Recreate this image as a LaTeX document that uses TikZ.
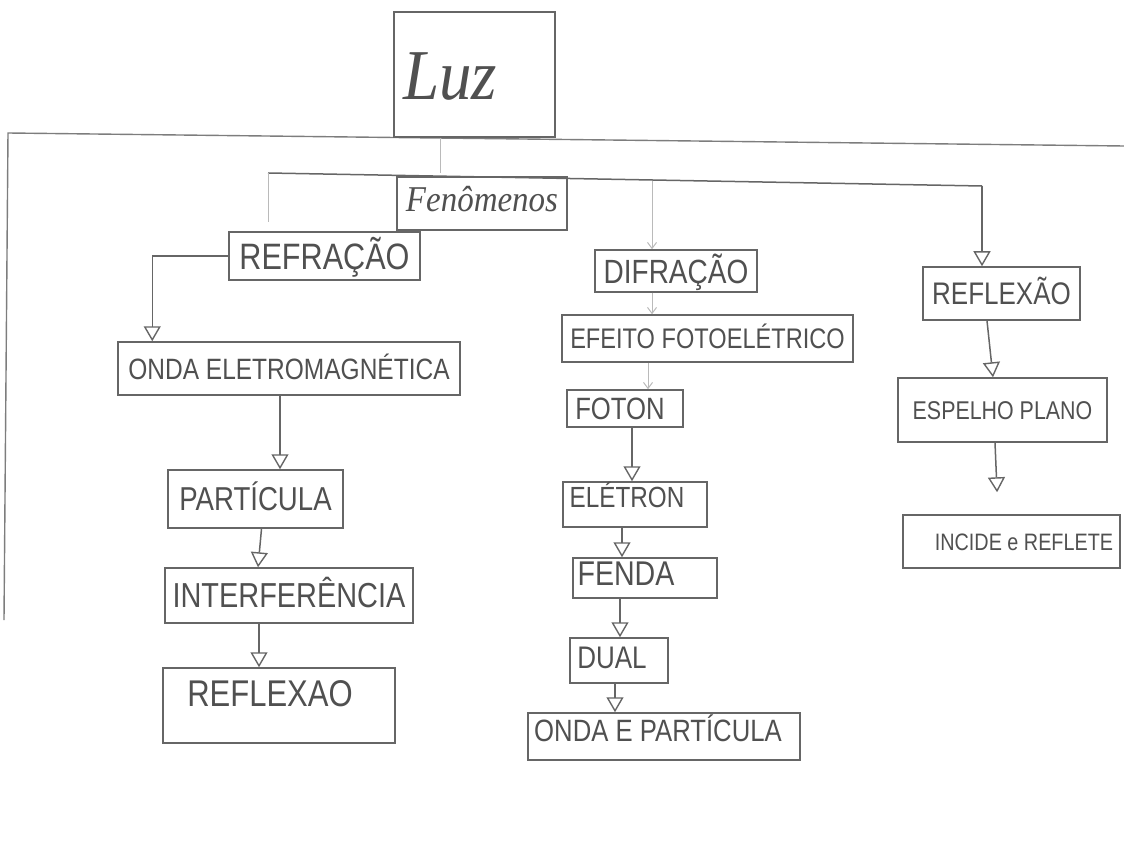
\documentclass[tikz,border=0pt]{standalone}
\usepackage{fontspec}
\setmainfont{Liberation Sans}
\newfontfamily\cursive{Liberation Serif}
\usetikzlibrary{arrows.meta}
\definecolor{linec}{HTML}{666666}
\definecolor{textc}{HTML}{505050}
\newcommand\hw[2]{\smash{\scalebox{1}[1.2]{\fontsize{#1pt}{#1pt}\selectfont #2}}\rule{0pt}{\dimexpr #1pt*86/100\relax}}
\newcommand\cw[2]{\smash{\scalebox{1}[1.1]{\fontsize{#1pt}{#1pt}\selectfont\cursive\itshape #2}}\rule{0pt}{\dimexpr #1pt*50/100\relax}}
\newcommand\pad[1]{\rule{#1}{0pt}}
\tikzset{
  box/.style={draw=linec, line width=1.5pt, rectangle, inner sep=0pt, text=textc},
  conn/.style={draw=linec, line width=1.5pt},
  arr/.style={conn, -{Triangle[open, length=15pt, width=17pt, line width=1.4pt]}},
  faint/.style={draw=linec!45, line width=1pt},
  faintarr/.style={faint, -{Straight Barb[length=6pt, width=9pt]}},
  frame/.style={draw=linec!85, line width=1.4pt}
}
\begin{document}
\begin{tikzpicture}[x=1pt, y=-1pt]
\useasboundingbox (0,0) rectangle (1124,842);
% page frame lines
\draw[frame] (4,620) -- (8,133) -- (1124,146);
% boxes
\node[box, minimum width=161pt, minimum height=125pt, text height=51pt, text depth=0pt] (luz) at (474.5,74.5) {\cw{65}{Luz}\pad{49pt}};
\node[box, minimum width=170pt, minimum height=53pt] (fen) at (482,203.5) {\cw{33}{Fenômenos}};
\node[box, minimum width=191pt, minimum height=48pt] (refr) at (324.5,256) {\hw{30.6}{REFRAÇÃO}};
\node[box, minimum width=342pt, minimum height=53pt] (onda) at (289,368.5) {\hw{24.5}{ONDA ELETROMAGNÉTICA}};
\node[box, minimum width=175pt, minimum height=58pt] (part) at (255.5,499) {\hw{27.6}{PARTÍCULA}};
\node[box, minimum width=248pt, minimum height=55pt] (inter) at (289,595.5) {\hw{28.9}{INTERFERÊNCIA}};
\node[box, minimum width=232pt, minimum height=75pt, text depth=25pt] (reflL) at (279,705.5) {\hw{31}{REFLEXAO}\pad{18pt}};
\node[box, minimum width=162pt, minimum height=42pt] (difr) at (676,271) {\hw{28}{DIFRAÇÃO}};
\node[box, minimum width=291pt, minimum height=47pt] (efeito) at (707.5,338.5) {\hw{23.6}{EFEITO FOTOELÉTRICO}};
\node[box, minimum width=116pt, minimum height=37pt] (foton) at (625,408.5) {\hw{25.7}{FOTON}\pad{10pt}};
\node[box, minimum width=144pt, minimum height=45pt, text depth=14pt] (eletron) at (635,504.5) {\hw{24.3}{ELÉTRON}\pad{16pt}};
\node[box, minimum width=144pt, minimum height=40pt, text depth=10pt] (fenda) at (645,578) {\hw{28.6}{FENDA}\pad{38pt}};
\node[box, minimum width=98pt, minimum height=45pt, text depth=7pt] (dual) at (619,660.5) {\hw{26}{DUAL}\pad{14pt}};
\node[box, minimum width=272pt, minimum height=47pt, text depth=12pt] (ondap) at (664,736.5) {\hw{25.7}{ONDA E PARTÍCULA}\pad{12pt}};
\node[box, minimum width=157pt, minimum height=53pt] (reflR) at (1001.5,293.5) {\hw{26}{REFLEXÃO}};
\node[box, minimum width=209pt, minimum height=64pt] (esp) at (1002.5,410) {\hw{21.4}{ESPELHO PLANO}};
\node[box, minimum width=217pt, minimum height=53pt] (incide) at (1011.5,541.5) {\pad{25pt}\hw{19.8}{INCIDE e REFLETE}};
% bus coordinates
\coordinate (bj) at (440,173);
\coordinate (bl) at (268,173);
\coordinate (bld) at (268,222);
\coordinate (bm) at (652,181);
\coordinate (br) at (982,186);
% connectors
\draw[faint] ([xshift=-34.5pt]luz.south) -- (bj);
\draw[conn] (bl) -- (br);
\draw[faint] (bl) -- (bld);
\draw[arr] (br) -- ([xshift=-19.5pt]reflR.north);
\draw[faintarr] (bm) -- ([xshift=-24pt]difr.north);
\draw[faintarr] ([xshift=-24pt]difr.south) -- ([xshift=-55.5pt]efeito.north);
\draw[faintarr] ([xshift=-59.5pt]efeito.south) -- ([xshift=23pt]foton.north);
% left chain
\draw[arr] (refr.west) -| ([xshift=35pt]onda.north west);
\draw[arr] ([xshift=-9pt]onda.south) -- ([xshift=24.5pt]part.north);
\draw[arr] ([xshift=6pt]part.south) -- ([xshift=-31pt]inter.north);
\draw[arr] ([xshift=-30pt]inter.south) -- ([xshift=-20pt]reflL.north);
% middle chain
\draw[arr] ([xshift=7pt]foton.south) -- ([xshift=-3pt]eletron.north);
\draw[arr] ([xshift=-13pt]eletron.south) -- ([xshift=-23pt]fenda.north);
\draw[arr] ([xshift=-25pt]fenda.south) -- ([xshift=1pt]dual.north);
\draw[arr] ([xshift=-4pt]dual.south) -- ([xshift=-49pt]ondap.north);
% right chain
\draw[arr] ([xshift=-14.5pt]reflR.south) -- ([xshift=-9.5pt]esp.north);
\draw[arr, shorten >=22pt] ([xshift=-7.5pt]esp.south) -- ([xshift=-13.5pt]incide.north);
\end{tikzpicture}
\end{document}
